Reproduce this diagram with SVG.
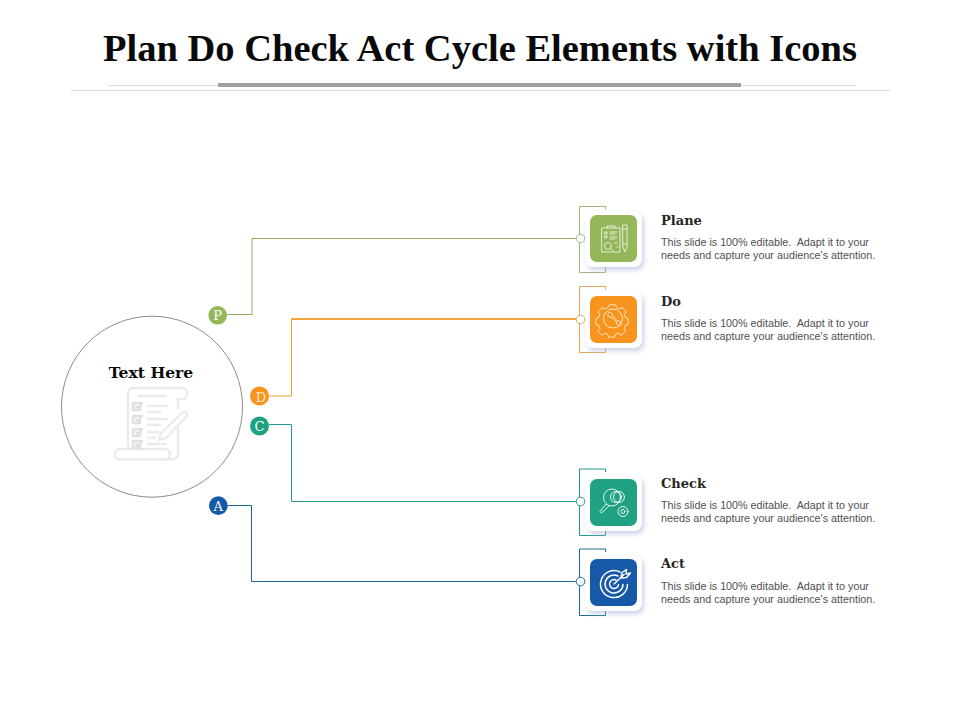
<svg xmlns="http://www.w3.org/2000/svg" width="960" height="720" viewBox="0 0 960 720">
<style>
.title{font:bold 38.500px "Liberation Serif","DejaVu Serif",serif;fill:#0a0a0a}
.head{font:bold 13px "DejaVu Serif","Liberation Serif",serif;fill:#262626}
.body{font:10.750px "Liberation Sans",Arial,sans-serif;fill:#505050;white-space:pre}
.badge{font:13px "DejaVu Serif","Liberation Serif",serif;fill:#fff;text-anchor:middle}
.center{font:bold 15.600px "DejaVu Serif","Liberation Serif",serif;fill:#0a0a0a;text-anchor:middle}
.card{fill:#fff;filter:url(#sh)}
.ic{fill:none;stroke:#fff;stroke-width:1;stroke-linecap:round;stroke-linejoin:round;opacity:.75}
.wire{fill:none;stroke-width:1}
.doc{fill:none;stroke:#ebebeb;stroke-width:2.400;stroke-linecap:round;stroke-linejoin:round}
</style>
<defs>
<filter id="sh" x="-30%" y="-30%" width="170%" height="170%"><feDropShadow dx="2" dy="3" stdDeviation="2.500" flood-color="#a9b6d3" flood-opacity=".6"/></filter>
</defs>
<rect width="960" height="720" fill="#fff"/>
<g id="title">
<text class="title" x="480" y="61" text-anchor="middle">Plan Do Check Act Cycle Elements with Icons</text>
<path d="M108 85.500H855" stroke="#ddd" stroke-width="1"/>
<path d="M71 90.500H890" stroke="#ddd" stroke-width="1"/>
<rect x="218" y="83" width="523" height="4" fill="#a0a0a0"/>
</g>
<g id="connectors">
<path class="wire" stroke="#8fae5e" d="M227 314.500H252V238.500H576"/>
<path class="wire" stroke="#e8a33a" d="M269 396H291.500V319H576"/>
<path d="M291.500 319H576" stroke="#f0961c" stroke-width="1.600" fill="none"/>
<path class="wire" stroke="#249a92" d="M269 424.500H291.500V501.500H576"/>
<path class="wire" stroke="#1c6a94" d="M227 505.500H251.500V581.500H576"/>
<path class="wire" stroke="#a3b67f" d="M605.500 209.500V206.500H579.500V272.500H605.500V267"/>
<path class="wire" stroke="#e3a857" d="M605.500 289.500V286.500H579.500V352.500H605.500V347"/>
<path class="wire" stroke="#249a92" d="M605.500 472V469H579.500V535.500H605.500V530"/>
<path class="wire" stroke="#1c6a94" d="M605.500 552V549H579.500V615.500H605.500V610"/>
</g>
<g id="hub">
<circle cx="152" cy="406.700" r="90.500" fill="#fff" stroke="#8c8c8c" stroke-width="1"/>
<text class="center" x="151" y="378">Text Here</text>
<g class="doc">
<path d="M128 449V393a5 5 0 0 1 5-5H182a5.500 5.500 0 0 1 0 11H178"/>
<path d="M178 399V408M178 428V454a5.500 5.500 0 0 1-5.500 5.500H120a5 5 0 0 1 0-10.500H165a5 5 0 0 1 5 5 5 5 0 0 1-3 5"/>
<path d="M139 396H166M148 406H167M148 412H160M148 419H167M148 425H160M148 432H158M148 438H155M148 444H166"/>
<path d="M133 403h7v7h-7zM133 416h7v7h-7zM133 429h7v7h-7zM133 441h7v7h-7z" stroke="#e0e0e0"/>
<path d="M136 406l2 2 4-5M136 419l2 2 4-5M136 432l2 2 4-5M136 444l2 2 4-5" stroke="#e0e0e0"/>
<path d="M161 433l22-21a3 3 0 0 1 4 4l-21 22-7 2z"/>
</g>
</g>
<g id="badge-p"><circle cx="217.700" cy="315.300" r="9.300" fill="#94b75a"/><text class="badge" x="217.700" y="320">P</text></g>
<g id="badge-d"><circle cx="259.500" cy="396" r="9.500" fill="#f7941d"/><text class="badge" x="261" y="401.500" fill-opacity=".85">D</text></g>
<g id="badge-c"><circle cx="259.500" cy="426" r="9.500" fill="#1fa182"/><text class="badge" x="259.500" y="431">C</text></g>
<g id="badge-a"><circle cx="218.300" cy="505.600" r="9.300" fill="#1559a8"/><text class="badge" x="218.300" y="510.500">A</text></g>

<g id="node-plan">
<rect class="card" x="585" y="211" width="57" height="56" rx="8"/>
<circle cx="580.500" cy="238.500" r="4.300" fill="#fff" stroke="#a3b67f"/>
<rect x="590" y="215" width="47" height="47" rx="7" fill="#94b75a"/>
<g class="ic" transform="translate(590 215)">
<path d="M12 13H30V37H12zM17 13V11H25V13"/>
<path d="M15 17h2v2h-2zM15 21h2v2h-2zM20 17h7M20 19h5M20 22h7M20 24h5"/>
<circle cx="18" cy="31" r="3.500"/><path d="M20 33l3 3M25 28h2M27 32h1"/>
<path d="M33 10h4V32l-2 5-2-5zM33 14h4M33 29h4"/>
</g>
<text class="head" x="661" y="225">Plane</text>
<text class="body" x="661" y="245.500">This slide is 100% editable.  Adapt it to your</text>
<text class="body" x="661" y="258.500">needs and capture your audience's attention.</text>
</g>

<g id="node-do">
<rect class="card" x="585" y="292" width="57" height="56" rx="8"/>
<circle cx="580.500" cy="319.500" r="4.300" fill="#fff" stroke="#e3a857"/>
<rect x="590" y="296" width="47" height="47" rx="7" fill="#f7941d"/>
<g class="ic" transform="translate(590 296)">
<path d="M20 10h6l1 3 3 1 3-1 4 4-2 3 1 3 3 1v6l-3 1-1 3 1 3-4 4-3-2-3 1-1 3h-6l-1-3-3-1-3 2-4-4 2-3-1-3-3-1v-6l3-1 1-3-2-3 4-4 3 1 3-1z" transform="translate(0 -1) scale(.98)"/>
<circle cx="23" cy="22.500" r="9.500"/>
<path d="M17.500 18l2-2 3 2v2l5 5h2l2 3-2 2-3-2v-2l-5-5h-2z"/>
</g>
<text class="head" x="661" y="306">Do</text>
<text class="body" x="661" y="326.500">This slide is 100% editable.  Adapt it to your</text>
<text class="body" x="661" y="339.500">needs and capture your audience's attention.</text>
</g>

<g id="node-check">
<rect class="card" x="585" y="475" width="57" height="56" rx="8"/>
<circle cx="580.500" cy="501.500" r="4.300" fill="#fff" stroke="#249a92"/>
<rect x="590" y="479" width="47" height="47" rx="7" fill="#1fa182"/>
<g class="ic" style="opacity:.9" transform="translate(590 479)">
<circle cx="22" cy="18.500" r="8.500"/><circle cx="26" cy="18" r="5.500"/><circle cx="29" cy="18" r="5.500"/>
<path d="M16 25L10 32.500 11.500 34 19 27"/>
<circle cx="33" cy="32.500" r="5"/><circle cx="33" cy="32.500" r="2"/>
</g>
<text class="head" x="661" y="488">Check</text>
<text class="body" x="661" y="508.500">This slide is 100% editable.  Adapt it to your</text>
<text class="body" x="661" y="521.500">needs and capture your audience's attention.</text>
</g>

<g id="node-act">
<rect class="card" x="585" y="555" width="57" height="56" rx="8"/>
<circle cx="580.500" cy="581.500" r="4.300" fill="#fff" stroke="#1c6a94"/>
<rect x="590" y="559" width="47" height="47" rx="7" fill="#1559a8"/>
<g class="ic" style="stroke-width:1.500;opacity:1" transform="translate(590 559)">
<path d="M30 13A13.500 13.500 0 1 0 37.500 25.500"/>
<path d="M28 17A9 9 0 1 0 33 25.500"/>
<path d="M26 21A4.500 4.500 0 1 0 28.500 25.500"/>
<path d="M24 25L34 15.500M31 18.500l1-5 4.500-3-.5 4.500 4.500-1-4 4.500-5.500.5"/>
</g>
<text class="head" x="661" y="568">Act</text>
<text class="body" x="661" y="589.500">This slide is 100% editable.  Adapt it to your</text>
<text class="body" x="661" y="602.500">needs and capture your audience's attention.</text>
</g>
</svg>
